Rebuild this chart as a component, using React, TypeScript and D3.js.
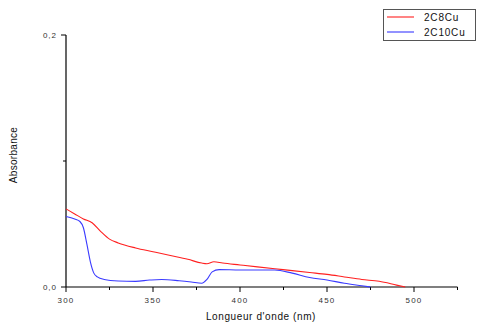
import { useRef, useEffect } from "react"
import * as d3 from "d3"

// wavelength (nm) / absorbance
const wl2C8 = [300, 305, 310, 315, 320, 325, 330, 340, 350, 360, 370, 378, 381, 385, 390, 400, 410, 420, 430, 440, 450, 460, 470, 480, 490, 495]
const abs2C8 = [0.062, 0.058, 0.054, 0.051, 0.044, 0.038, 0.035, 0.031, 0.028, 0.025, 0.022, 0.019, 0.0185, 0.02, 0.019, 0.0175, 0.016, 0.0145, 0.013, 0.0115, 0.01, 0.008, 0.006, 0.0045, 0.0015, 0]

const wl2C10 = [300, 305, 308, 310, 312, 314, 316, 318, 322, 330, 340, 348, 355, 365, 372, 378, 381, 384, 388, 400, 420, 430, 440, 450, 460, 470, 475]
const abs2C10 = [0.056, 0.054, 0.052, 0.047, 0.034, 0.02, 0.011, 0.008, 0.006, 0.0048, 0.0045, 0.0055, 0.006, 0.005, 0.004, 0.003, 0.006, 0.012, 0.0138, 0.0135, 0.0135, 0.011, 0.0075, 0.0055, 0.003, 0.001, 0]

const seriesNames = ["2C8Cu", "2C10Cu"]
const seriesColors = ["#ff2020", "#3a3aff"]
const xMajorTicks = [300, 350, 400, 450, 500]
const xMinorTicks = [325, 375, 425, 475, 525]
const yMajorTicks = [0, 0.2]
const yMinorTicks = [0.1]

export default function App() {
  const svgRef = useRef<SVGSVGElement | null>(null)

  useEffect(() => {
    if (!svgRef.current) return
    document.body.style.margin = "0"
    const svg = d3.select(svgRef.current)
    svg.selectAll("*").remove()

    const x = d3.scaleLinear().domain([300, 525]).range([66, 457.5])
    const y = d3.scaleLinear().domain([0, 0.2]).range([287, 35])
    const font = "'Liberation Sans', Arial, sans-serif"

    // axes lines
    svg.append("line").attr("x1", 66).attr("x2", 66).attr("y1", y(0.2)).attr("y2", y(0))
      .attr("stroke", "#000").attr("stroke-width", 1.2)
    svg.append("line").attr("x1", x(300)).attr("x2", x(525)).attr("y1", y(0)).attr("y2", y(0))
      .attr("stroke", "#000").attr("stroke-width", 1.2)

    // x ticks
    svg.selectAll(".xt").data(xMajorTicks.concat(xMinorTicks)).enter().append("line")
      .attr("x1", (d) => x(d)).attr("x2", (d) => x(d))
      .attr("y1", y(0)).attr("y2", (d) => y(0) + (xMajorTicks.includes(d) ? 5 : 3))
      .attr("stroke", "#000").attr("stroke-width", 1)
    svg.selectAll(".xl").data(xMajorTicks).enter().append("text")
      .attr("x", (d) => x(d)).attr("y", 303)
      .attr("text-anchor", "middle").attr("font-family", font).attr("font-size", 8)
      .attr("letter-spacing", 1.2).attr("fill", "#333")
      .text((d) => String(d))

    // y ticks
    svg.selectAll(".yt").data(yMajorTicks.concat(yMinorTicks)).enter().append("line")
      .attr("x1", (d) => 66 - (yMajorTicks.includes(d) ? 5 : 3)).attr("x2", 66)
      .attr("y1", (d) => y(d)).attr("y2", (d) => y(d))
      .attr("stroke", "#000").attr("stroke-width", 1)
    svg.selectAll(".yl").data(yMajorTicks).enter().append("text")
      .attr("x", 57).attr("y", (d) => y(d) + 3)
      .attr("text-anchor", "end").attr("font-family", font).attr("font-size", 8)
      .attr("letter-spacing", 1).attr("fill", "#333")
      .text((d) => d3.format(".1f")(d).replace(".", ","))

    // axis titles
    svg.append("text").attr("x", 261).attr("y", 320).attr("text-anchor", "middle")
      .attr("font-family", font).attr("font-size", 10).attr("letter-spacing", 0.6).attr("fill", "#111")
      .text("Longueur d'onde (nm)")
    svg.append("text").attr("transform", "translate(17,155) rotate(-90)").attr("text-anchor", "middle")
      .attr("font-family", font).attr("font-size", 10).attr("letter-spacing", 0.3).attr("fill", "#111")
      .text("Absorbance")

    // curves
    const line = d3.line<[number, number]>().x((d) => x(d[0])).y((d) => y(d[1])).curve(d3.curveMonotoneX)
    const series: [number, number][][] = [
      wl2C8.map((w, i) => [w, abs2C8[i]]),
      wl2C10.map((w, i) => [w, abs2C10[i]]),
    ]
    series.forEach((pts, i) => {
      svg.append("path").attr("d", line(pts)).attr("fill", "none")
        .attr("stroke", seriesColors[i]).attr("stroke-width", 1.1)
    })

    // legend
    const lg = svg.append("g")
    lg.append("rect").attr("x", 383.5).attr("y", 9.5).attr("width", 92).attr("height", 31)
      .attr("fill", "#fff").attr("stroke", "#555").attr("stroke-width", 1)
    seriesNames.forEach((name, i) => {
      const ly = 17 + i * 15
      lg.append("line").attr("x1", 387).attr("x2", 414).attr("y1", ly).attr("y2", ly)
        .attr("stroke", seriesColors[i]).attr("stroke-width", 1.1)
      lg.append("text").attr("x", 424).attr("y", ly + 3.5)
        .attr("font-family", font).attr("font-size", 10).attr("letter-spacing", 0.8).attr("fill", "#111")
        .text(name)
    })
  }, [])

  return <svg ref={svgRef} width={477} height={327} style={{ display: "block", background: "#fff" }}></svg>
}
